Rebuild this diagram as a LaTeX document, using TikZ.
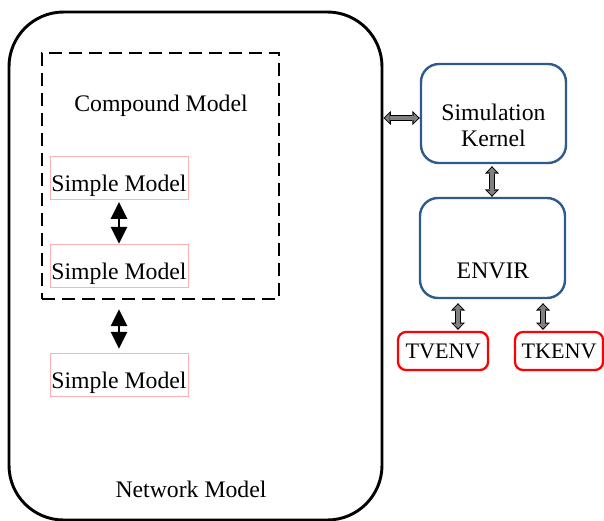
\documentclass[tikz,border=0pt]{standalone}
\usepackage{fontspec}
\setmainfont{Liberation Serif}
\usetikzlibrary{arrows.meta,calc}
\definecolor{kblue}{HTML}{2F5A8C}
\definecolor{spink}{HTML}{FFB0B0}
\definecolor{garr}{HTML}{808080}
\definecolor{ered}{HTML}{FF0000}
\begin{document}
\begin{tikzpicture}[x=0.75pt,y=-0.75pt,
  font=\fontsize{17.8}{19.5}\selectfont,
  netbox/.style={draw=black, line width=2.2pt, rounded corners=41pt, minimum width=279.75pt, minimum height=381pt, inner sep=0pt},
  cmpbox/.style={draw=black, line width=2.2pt, dash pattern=on 10pt off 5pt, minimum width=177.75pt, minimum height=184.5pt, inner sep=0pt},
  smbox/.style={draw=spink, line width=0.75pt, minimum width=103.5pt, inner sep=0pt, text height=26.25pt, text depth=6pt},
  kbox/.style={draw=kblue, line width=1.8pt, rounded corners=13.5pt, minimum width=108.75pt, inner sep=0pt},
  rbox/.style={draw=ered, line width=1.7pt, rounded corners=6pt, minimum height=28.5pt, inner sep=0pt},
  lbl/.style={anchor=base, inner sep=0pt},
  barrow/.style={draw=black, line width=1.5pt, {Triangle[length=12.5pt,width=12.5pt,line width=0pt]}-{Triangle[length=12.5pt,width=12.5pt,line width=0pt]}},
  garrow/.style={draw=black, line width=5pt,
    {Triangle[length=5.5pt,width=10.5pt,line width=0pt]}-{Triangle[length=5.5pt,width=10.5pt,line width=0pt]},
    postaction={draw=garr, line width=2.8pt, shorten <=1.1pt, shorten >=1.1pt,
      {Triangle[length=3.6pt,width=7.5pt,line width=0pt]}-{Triangle[length=3.6pt,width=7.5pt,line width=0pt]}}}
]
\useasboundingbox (0,0) rectangle (604,521);

% network model
\node[netbox] (net) at (195.5,266) {};
\node[lbl] (nettext) at (191,497) {Network Model};

% compound model
\node[cmpbox] (cmp) at (160.5,176) {};
\node[lbl] (cmptext) at (161,111) {Compound Model};

% simple models
\node[smbox] (s1) at (119,177.5) {Simple Model};
\node[smbox] (s2) at (119,265.5) {Simple Model};
\node[smbox] (s3) at (119,374.5) {Simple Model};

\draw[barrow, shorten <=2pt] (s1.south) -- (s2.north);
\coordinate (a2) at ($(cmp.south -| s3.north)+(0,9)$);
\draw[barrow, shorten >=3pt] (a2) -- (s3.north);

% kernel and envir
\node[kbox, minimum height=74.25pt] (kernel) at (493.5,113.5) {};
\node[lbl] (ktext1) at (493.4,120) {Simulation};
\node[lbl] (ktext2) at (493.4,146) {Kernel};

\node[kbox, minimum height=75pt] (envir) at (492.5,248) {};
\node[lbl] (etext) at (493,278) {ENVIR};

\node[rbox, minimum width=67.5pt, font=\fontsize{16.6}{18}\selectfont] (tvenv) at (443,351) {TVENV};
\node[rbox, minimum width=66pt, font=\fontsize{16.6}{18}\selectfont] (tkenv) at (559,351) {TKENV};

% gray arrows
\coordinate (h2) at ($(kernel.west)+(0,4.5)$);
\coordinate (h1) at (h2 -| net.east);
\draw[garrow] (h1) -- (h2);

\coordinate (k1) at ($(kernel.south)+(-1.5,2)$);
\coordinate (k2) at (k1 |- envir.north);
\draw[garrow] (k1) -- (k2);

\coordinate (tv2) at ($(tvenv.north)+(15,-1)$);
\coordinate (tv1) at ($(tv2 |- envir.south)+(0,4)$);
\draw[garrow] (tv1) -- (tv2);

\coordinate (tk2) at ($(tkenv.north)+(-16,-1)$);
\coordinate (tk1) at ($(tk2 |- envir.south)+(0,4)$);
\draw[garrow] (tk1) -- (tk2);
\end{tikzpicture}
\end{document}
